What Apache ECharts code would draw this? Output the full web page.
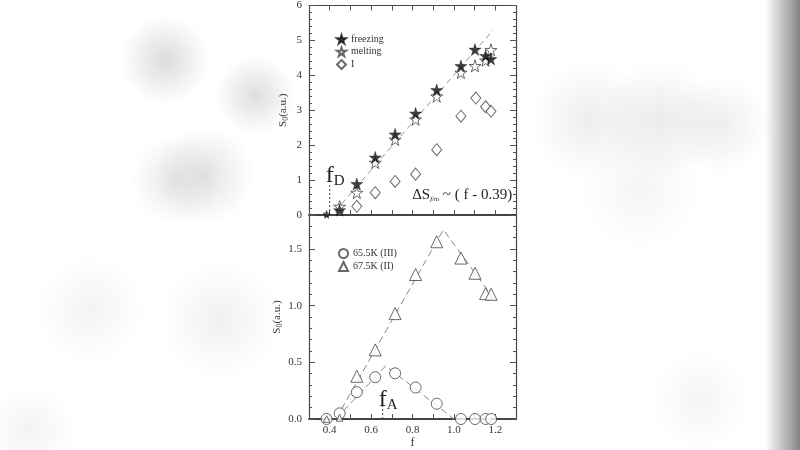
<!DOCTYPE html>
<html>
<head>
<meta charset="utf-8">
<script src="https://cdn.jsdelivr.net/npm/echarts@6/dist/echarts.min.js"></script>
<style>
  html, body { margin: 0; padding: 0; background: #fff; }
  #chart { width: 800px; height: 450px; }
</style>
</head>
<body>
<div id="chart"></div>
<script>
"use strict";
// top panel: S0 vs f
var fTop = [0.385, 0.448, 0.531, 0.62, 0.716, 0.815, 0.917, 1.034, 1.102, 1.153, 1.179];
var freezing = [0.0, 0.14, 0.89, 1.65, 2.31, 2.91, 3.58, 4.27, 4.74, 4.56, 4.47];
var melting = [0.03, 0.24, 0.64, 1.50, 2.16, 2.74, 3.40, 4.08, 4.27, 4.43, 4.73];
var fI = [0.531, 0.62, 0.716, 0.815, 0.917, 1.034, 1.106, 1.153, 1.179];
var valI = [0.25, 0.64, 0.96, 1.17, 1.87, 2.83, 3.35, 3.10, 2.97];
var fitTopF = [0.425, 1.19];
var fitTopS = [0.1, 5.3];

// bottom panel
var fBot = [0.385, 0.448, 0.531, 0.62, 0.716, 0.815, 0.917, 1.034, 1.102, 1.153, 1.18];
var k655 = [0.0, 0.05, 0.237, 0.369, 0.403, 0.278, 0.135, 0.0, 0.0, 0.0, 0.0];
var k675 = [0.0, 0.01, 0.377, 0.61, 0.93, 1.275, 1.564, 1.42, 1.286, 1.106, 1.10];
var fitTriF = [0.43, 0.949, 1.197];
var fitTriS = [0.0, 1.67, 1.05];
var fitCirF = [0.43, 0.671, 1.0];
var fitCirS = [0.0, 0.47, 0.0];

// markers fD / fA
var fD = 0.40, fDTop = 0.85;
var fA = 0.656, fATop = 0.14;

var xLabels = ['0.4', '0.6', '0.8', '1.0', '1.2'];

function pairs(xs, ys) {
    var out = [];
    for (var i = 0; i < xs.length; i++) out.push([xs[i], ys[i]]);
    return out;
}

var serif = 'Liberation Serif';
var ink = '#333';
var star = 'path://M50,0 L61,35 L98,35 L68,57 L79,91 L50,70 L21,91 L32,57 L2,35 L39,35 Z';

function smallAtZero(big) {
    return function (v) { return v[1] < 0.06 ? big * 0.55 : big; };
}

function xAxisCfg(grid, pos, labels) {
    return {
        type: 'value', gridIndex: grid, position: pos, min: 0.3, max: 1.3, interval: 0.1,
        axisLine: {show: true, onZero: false, lineStyle: {color: '#444', width: pos === 'bottom' ? 2 : 1.2}},
        axisTick: {show: true, inside: true, length: 5, lineStyle: {color: '#555'}},
        axisLabel: {
            show: labels, color: ink, fontFamily: serif, fontSize: 11, margin: 6,
            formatter: function (v) {
                var s = v.toFixed(1);
                return xLabels.indexOf(s) >= 0 ? s : '';
            }
        },
        splitLine: {show: false},
        name: labels ? 'f' : '', nameLocation: 'middle', nameGap: 18,
        nameTextStyle: {color: ink, fontFamily: serif, fontSize: 12}
    };
}

function yAxisCfg(grid, pos, max, interval, labels, fmt) {
    return {
        type: 'value', gridIndex: grid, position: pos, min: 0, max: max, interval: interval,
        axisLine: {show: true, lineStyle: {color: '#444', width: 1.2}},
        axisTick: {show: true, inside: true, length: 6, lineStyle: {color: '#555'}},
        minorTick: {show: true, splitNumber: 5, length: 3, lineStyle: {color: '#555'}},
        axisLabel: {show: labels, color: ink, fontFamily: serif, fontSize: 11, margin: 7, formatter: fmt},
        splitLine: {show: false},
        name: labels ? '{s|S}{o|0}{s|(a.u.)}' : '', nameLocation: 'middle', nameGap: 19,
        nameTextStyle: {
            color: ink, fontFamily: serif,
            rich: {
                s: {fontFamily: serif, fontSize: 11, color: ink},
                o: {fontFamily: serif, fontSize: 8, color: ink, padding: [6, 0, 0, 0]}
            }
        }
    };
}

// soft grey smudges of the blurred page behind the figure
function blob(cx, cy, r, a) {
    return {
        type: 'circle', z: -10, silent: true,
        shape: {cx: cx, cy: cy, r: r},
        style: {
            fill: new echarts.graphic.RadialGradient(0.5, 0.5, 0.5, [
                {offset: 0, color: 'rgba(195,195,195,' + a + ')'},
                {offset: 0.5, color: 'rgba(205,205,205,' + (a * 0.6) + ')'},
                {offset: 1, color: 'rgba(210,210,210,0)'}
            ])
        }
    };
}

var myChart = echarts.init(document.getElementById('chart'));

var option = {
    backgroundColor: '#fff',
    animation: false,
    grid: [
        {left: 309, top: 3, width: 207, height: 212},
        {left: 309, top: 215, width: 207, height: 212}
    ],
    xAxis: [
        xAxisCfg(0, 'bottom', false),
        xAxisCfg(0, 'top', false),
        xAxisCfg(1, 'bottom', true)
    ],
    yAxis: [
        yAxisCfg(0, 'left', 6, 1, true, function (v) { return String(v); }),
        yAxisCfg(0, 'right', 6, 1, false),
        yAxisCfg(1, 'left', 1.8, 0.5, true, function (v) {
            return Math.abs(v * 2 - Math.round(v * 2)) < 1e-6 ? v.toFixed(1) : '';
        }),
        yAxisCfg(1, 'right', 1.8, 0.5, false)
    ],
    legend: [
        {
            data: ['freezing', 'melting', 'I'],
            left: 331, top: 29, orient: 'vertical', itemGap: 2,
            itemWidth: 9, itemHeight: 9,
            textStyle: {fontFamily: serif, fontSize: 10, color: ink}
        },
        {
            data: ['65.5K (III)', '67.5K (II)'],
            left: 333, top: 243, orient: 'vertical', itemGap: 2,
            itemWidth: 9, itemHeight: 9,
            textStyle: {fontFamily: serif, fontSize: 10, color: ink}
        }
    ],
    series: [
        {
            type: 'line', xAxisIndex: 0, yAxisIndex: 0, data: pairs(fitTopF, fitTopS),
            symbol: 'none', lineStyle: {color: '#999', width: 1, type: [6, 4]}, silent: true, z: 1
        },
        {
            type: 'line', xAxisIndex: 0, yAxisIndex: 0, data: [[fD, 0], [fD, fDTop]],
            symbol: 'none', lineStyle: {color: '#444', width: 1, type: [2, 2]}, silent: true, z: 1
        },
        {
            name: 'melting', type: 'scatter', xAxisIndex: 0, yAxisIndex: 0,
            data: pairs(fTop, melting), symbol: star, symbolSize: smallAtZero(12),
            itemStyle: {color: '#fff', borderColor: '#444', borderWidth: 1}, z: 3
        },
        {
            name: 'freezing', type: 'scatter', xAxisIndex: 0, yAxisIndex: 0,
            data: pairs(fTop, freezing), symbol: star, symbolSize: smallAtZero(12),
            itemStyle: {color: '#111', borderColor: '#111', borderWidth: 0.5}, z: 4
        },
        {
            name: 'I', type: 'scatter', xAxisIndex: 0, yAxisIndex: 0,
            data: pairs(fI, valI), symbol: 'diamond', symbolSize: [10, 12],
            itemStyle: {color: '#fff', borderColor: '#444', borderWidth: 1}, z: 3
        },
        {
            type: 'line', xAxisIndex: 2, yAxisIndex: 2, data: pairs(fitTriF, fitTriS),
            symbol: 'none', lineStyle: {color: '#888', width: 1, type: [7, 4]}, silent: true, z: 1
        },
        {
            type: 'line', xAxisIndex: 2, yAxisIndex: 2, data: pairs(fitCirF, fitCirS),
            symbol: 'none', lineStyle: {color: '#888', width: 1, type: [7, 4]}, silent: true, z: 1
        },
        {
            type: 'line', xAxisIndex: 2, yAxisIndex: 2, data: [[fA, 0], [fA, fATop]],
            symbol: 'none', lineStyle: {color: '#444', width: 1, type: [2, 2]}, silent: true, z: 1
        },
        {
            name: '65.5K (III)', type: 'scatter', xAxisIndex: 2, yAxisIndex: 2,
            data: pairs(fBot, k655), symbol: 'circle', symbolSize: 11,
            itemStyle: {color: '#fff', borderColor: '#444', borderWidth: 1}, z: 3
        },
        {
            name: '67.5K (II)', type: 'scatter', xAxisIndex: 2, yAxisIndex: 2,
            data: pairs(fBot, k675), symbol: 'triangle', symbolSize: smallAtZero(12),
            itemStyle: {color: '#fff', borderColor: '#444', borderWidth: 1}, z: 3
        }
    ]
};

myChart.setOption(option);

// annotations placed via the axes
var pD = myChart.convertToPixel({xAxisIndex: 0, yAxisIndex: 0}, [fD, fDTop]);
var pA = myChart.convertToPixel({xAxisIndex: 2, yAxisIndex: 2}, [fA, fATop]);
var pS = myChart.convertToPixel({xAxisIndex: 0, yAxisIndex: 0}, [1.04, 0.56]);

myChart.setOption({
    graphic: [
        blob(165, 60, 45, 0.6),
        blob(255, 95, 40, 0.55),
        blob(175, 180, 45, 0.4),
        blob(205, 175, 50, 0.45),
        blob(220, 320, 60, 0.25),
        blob(90, 310, 55, 0.2),
        blob(590, 120, 60, 0.3),
        blob(660, 120, 60, 0.35),
        blob(720, 125, 50, 0.3),
        blob(640, 190, 60, 0.18),
        blob(700, 400, 50, 0.18),
        blob(30, 430, 45, 0.2),
        {
            type: 'rect', left: 765, top: 0, z: -10, silent: true,
            shape: {width: 35, height: 450},
            style: {
                fill: new echarts.graphic.LinearGradient(0, 0, 1, 0, [
                    {offset: 0, color: 'rgba(150,150,150,0)'},
                    {offset: 0.6, color: 'rgba(150,150,150,0.7)'},
                    {offset: 1, color: 'rgba(130,130,130,1)'}
                ])
            }
        },
        {
            type: 'text', x: pD[0] - 4, y: pD[1] + 3, z: 10, silent: true,
            style: {
                text: '{f|f}{d|D}', textVerticalAlign: 'bottom',
                rich: {
                    f: {fontFamily: serif, fontSize: 24, fill: '#222'},
                    d: {fontFamily: serif, fontSize: 15, fill: '#222', padding: [10, 0, 0, 0]}
                }
            }
        },
        {
            type: 'text', x: pA[0] - 4, y: pA[1] + 9, z: 10, silent: true,
            style: {
                text: '{f|f}{d|A}', textVerticalAlign: 'bottom',
                rich: {
                    f: {fontFamily: serif, fontSize: 24, fill: '#222'},
                    d: {fontFamily: serif, fontSize: 15, fill: '#222', padding: [10, 0, 0, 0]}
                }
            }
        },
        {
            type: 'text', x: pS[0], y: pS[1], z: 10, silent: true,
            style: {
                text: '{a|ΔS}{b|f/m}{a| ~ ( f - 0.39)}', textAlign: 'center', textVerticalAlign: 'middle',
                rich: {
                    a: {fontFamily: serif, fontSize: 15, fill: '#222'},
                    b: {fontFamily: serif, fontSize: 7, fontStyle: 'italic', fill: '#222', padding: [8, 0, 0, 0]}
                }
            }
        }
    ]
});
</script>
</body>
</html>
